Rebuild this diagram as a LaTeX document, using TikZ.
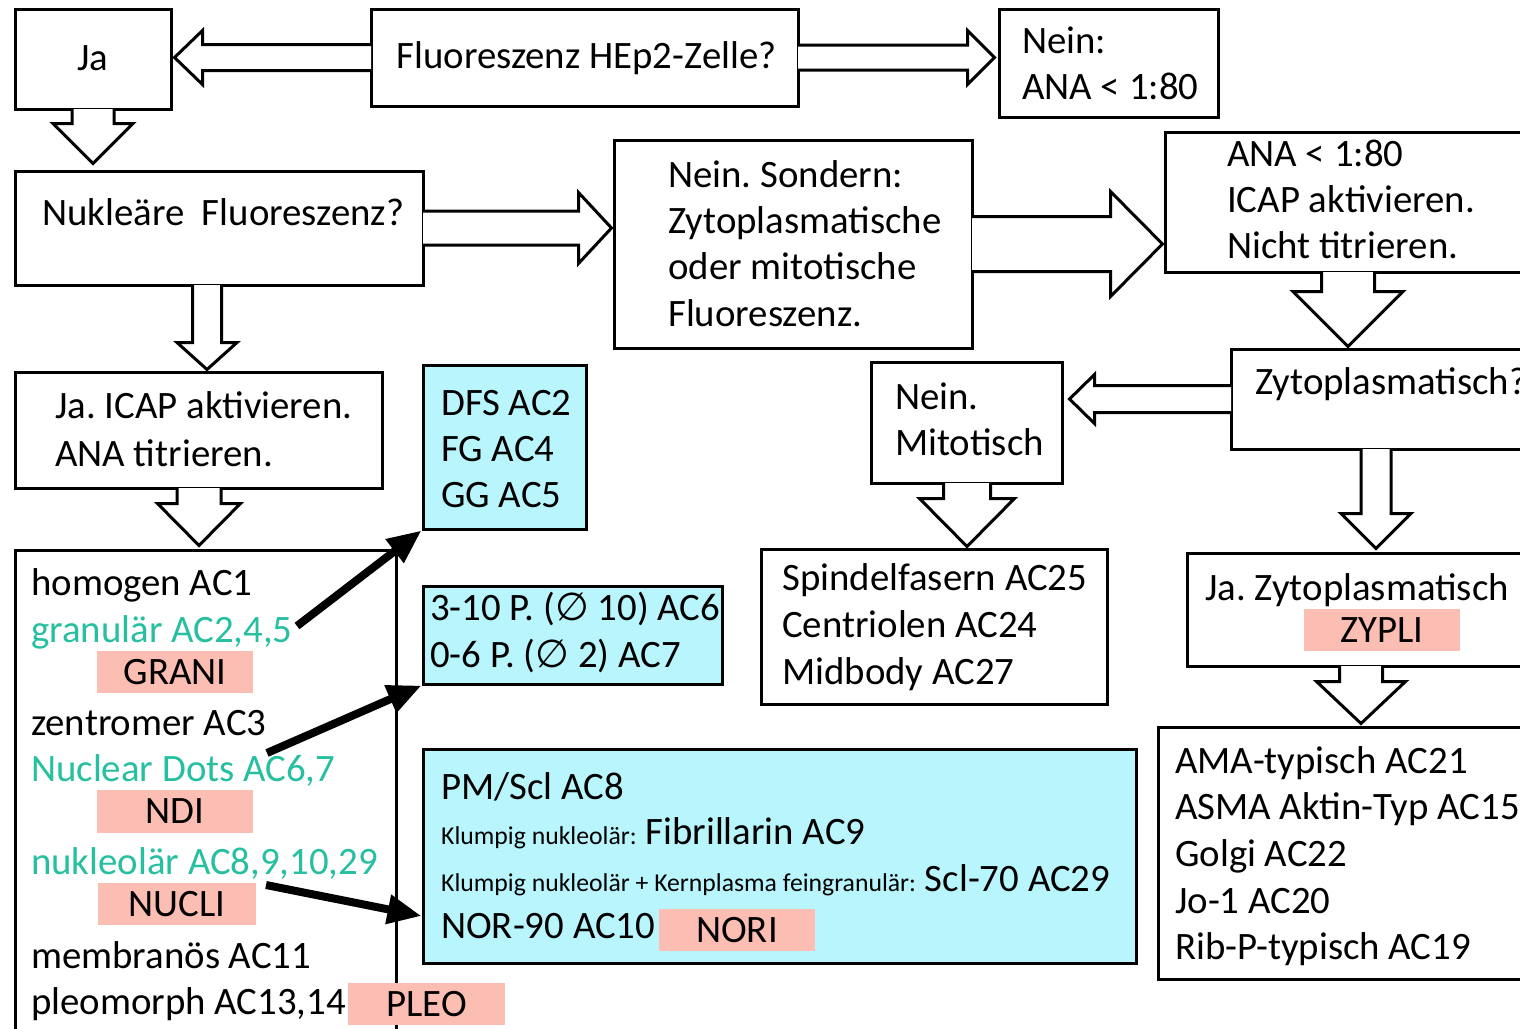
\documentclass[tikz,border=0pt]{standalone}
\usepackage{fontspec}
\setmainfont{Carlito}
\newfontfamily\dejavu{DejaVu Sans}
\usetikzlibrary{arrows.meta,calc,fit}
\definecolor{tealtx}{RGB}{38,192,160}
\definecolor{pinkf}{RGB}{252,190,178}
\definecolor{cyanf}{RGB}{184,245,252}
\newcommand\mainsz{\fontsize{38.8}{46}\selectfont}
\newcommand\smallf{\fontsize{25.7}{25}\selectfont}
\frenchspacing
% block arrows: start point, tip point, shaft half, head half, head length
\newcommand\rarr[5]{\draw[blk] let \p1=(#1), \p2=(#2) in (\x1-1.5pt,\y1+#3pt) -- (\x2-#5pt,\y1+#3pt) -- (\x2-#5pt,\y1+#4pt) -- (\x2,\y1) -- (\x2-#5pt,\y1-#4pt) -- (\x2-#5pt,\y1-#3pt) -- (\x1-1.5pt,\y1-#3pt);}
\newcommand\larr[5]{\draw[blk] let \p1=(#1), \p2=(#2) in (\x1+1.5pt,\y1+#3pt) -- (\x2+#5pt,\y1+#3pt) -- (\x2+#5pt,\y1+#4pt) -- (\x2,\y1) -- (\x2+#5pt,\y1-#4pt) -- (\x2+#5pt,\y1-#3pt) -- (\x1+1.5pt,\y1-#3pt);}
\newcommand\darr[5]{\draw[blk] let \p1=(#1), \p2=(#2) in (\x1-#3pt,\y1+1.5pt) -- (\x1-#3pt,\y2+#5pt) -- (\x1-#4pt,\y2+#5pt) -- (\x1,\y2) -- (\x1+#4pt,\y2+#5pt) -- (\x1+#3pt,\y2+#5pt) -- (\x1+#3pt,\y1+1.5pt);}
\begin{document}
\begin{tikzpicture}[x=1pt,y=-1pt,
  bx/.style={draw, line width=3pt, fill=white, inner sep=0pt},
  pk/.style={fill=pinkf, inner sep=0pt},
  txt/.style={anchor=west, inner sep=0pt, text height=22pt, text depth=0pt, font=\mainsz},
  ctxt/.style={anchor=center, inner sep=0pt, text height=22pt, text depth=0pt, font=\mainsz},
  ptxt/.style={anchor=center, inner sep=0pt, text height=24pt, text depth=0pt, font=\mainsz},
  blk/.style={draw, fill=white, line width=3pt, line join=miter},
  thk/.style={line width=8pt, -{Triangle[length=34pt,width=28pt]}}]
\useasboundingbox (0,0) rectangle (1520,1028);
\clip (0,0) rectangle (1520,1028);
\fill[white] (0,0) rectangle (1520,1028);
% boxes
\node[bx, fit={(15,9) (171,109)}] (ja) {};
\node[bx, fit={(371,9) (798,106)}] (fl) {};
\node[bx, fit={(999,9) (1218,117)}] (nein) {};
\node[bx, fit={(15,171) (423,285)}] (nuk) {};
\node[bx, fit={(614,140) (972,348)}] (sond) {};
\node[bx, fit={(1165,132) (1580,272)}] (ana) {};
\node[bx, fit={(1231,349) (1580,449)}] (zyt) {};
\node[bx, fit={(871,362) (1062,483)}] (mit) {};
\node[bx, fit={(761,549) (1107,704)}] (spin) {};
\node[bx, fit={(1187,553) (1580,666)}] (jzy) {};
\node[bx, fit={(1158,727) (1580,979)}] (ama) {};
\node[bx, fit={(15,372) (382,488)}] (icap) {};
\node[bx, fit={(15,550) (396,1100)}] (list) {};
\node[bx, fill=cyanf, fit={(423,365) (586,529)}] (dfs) {};
\node[bx, fill=cyanf, fit={(423,586) (722,684)}] (p310) {};
\node[bx, fill=cyanf, fit={(423,749) (1136,963)}] (pm) {};
% pink labels
\node[pk, fit={(97,651) (253,693)}] (grani) {};
\node[pk, fit={(97,790) (253,833)}] (ndi) {};
\node[pk, fit={(98,883) (256,925)}] (nucli) {};
\node[pk, fit={(348,983) (505,1025)}] (pleo) {};
\node[pk, fit={(659,909) (815,951)}] (nori) {};
\node[pk, fit={(1304,609) (1460,651)}] (zypli) {};
\node[ptxt] (tgrani) at (grani.center) {GRANI};
\node[ptxt] (tndi) at (ndi.center) {NDI};
\node[ptxt] (tnucli) at (nucli.center) {NUCLI};
\node[ptxt] (tpleo) at (pleo.center) {PLEO};
\node[ptxt] (tnori) at (nori.center) {NORI};
\node[ptxt] (tzypli) at (zypli.center) {ZYPLI};
% texts
\node[ctxt] (tja) at (ja.center) {Ja};
\node[ctxt] (tfl) at ($(fl.center)+(2,0)$) {Fluoreszenz HEp2-Zelle?};
\node[txt] (tn1) at (1022,42) {Nein:};
\node[txt] (tn2) at (1022,88) {ANA < 1:80};
\node[txt] (tnuk) at (42,214) {Nukleäre\ \ Fluoreszenz?};
\node[txt] (ts1) at (668,176) {Nein. Sondern:};
\node[txt] (ts2) at (668,222) {Zytoplasmatische};
\node[txt] (ts3) at (668,268) {oder mitotische};
\node[txt] (ts4) at (668,315) {Fluoreszenz.};
\node[txt] (ta1) at (1227,155) {ANA < 1:80};
\node[txt] (ta2) at (1227,201) {ICAP aktivieren.};
\node[txt] (ta3) at (1227,247) {Nicht titrieren.};
\node[txt] (tz) at (1255,383) {Zytoplasmatisch?};
\node[txt] (tm1) at (895,398) {Nein.};
\node[txt] (tm2) at (895,444) {Mitotisch};
\node[txt] (ti1) at (55,407) {Ja. ICAP aktivieren.};
\node[txt] (ti2) at (55,455) {ANA titrieren.};
\node[txt] (td1) at (441,404) {DFS AC2};
\node[txt] (td2) at (441,450) {FG AC4};
\node[txt] (td3) at (441,496) {GG AC5};
\node[txt] (tp1) at (430,609) {3-10 P. ({\dejavu ∅} 10) AC6};
\node[txt] (tp2) at (430,656) {0-6 P. ({\dejavu ∅} 2) AC7};
\node[txt] (tsp1) at (782,579) {Spindelfasern AC25};
\node[txt] (tsp2) at (782,626) {Centriolen AC24};
\node[txt] (tsp3) at (782,673) {Midbody AC27};
\node[txt] (tj) at (1205,589) {Ja. Zytoplasmatisch};
\node[txt] (tam1) at (1175,762) {AMA-typisch AC21};
\node[txt] (tam2) at (1175,808) {ASMA Aktin-Typ AC15};
\node[txt] (tam3) at (1175,855) {Golgi AC22};
\node[txt] (tam4) at (1175,902) {Jo-1 AC20};
\node[txt] (tam5) at (1175,948) {Rib-P-typisch AC19};
\node[txt] (tl1) at (31,584) {homogen AC1};
\node[txt, text=tealtx] (tl2) at (31,631) {granulär AC2,4,5};
\node[txt] (tl3) at (31,724) {zentromer AC3};
\node[txt, text=tealtx] (tl4) at (31,770) {Nuclear Dots AC6,7};
\node[txt, text=tealtx] (tl5) at (31,863) {nukleolär AC8,9,10,29};
\node[txt] (tl6) at (31,957) {membranös AC11};
\node[txt] (tl7) at (31,1003) {pleomorph AC13,14};
\node[txt] (tpm1) at (441,788) {PM/Scl AC8};
\node[txt] (tpm2) at (441,833) {{\smallf Klumpig nukleolär:} Fibrillarin AC9};
\node[txt] (tpm3) at (441,880) {{\smallf Klumpig nukleolär + Kernplasma feingranulär:} Scl-70 AC29};
\node[txt] (tpm4) at (441,927) {NOR-90 AC10};
% block arrows
\larr{fl.west}{$(ja.east |- fl.west)+(2,0)$}{13}{27}{28}
\rarr{fl.east}{$(nein.west |- fl.east)+(-3,0)$}{12.5}{27}{27}
\darr{93,0 |- ja.south}{$(93,0 |- nuk.north)+(0,-6)$}{21}{40}{40}
\rarr{nuk.east}{$(sond.west |- nuk.east)+(-1,0)$}{17}{35.5}{33}
\darr{207,0 |- nuk.south}{$(207,0 |- icap.north)+(0,-1)$}{14.5}{30}{27}
\darr{199,0 |- icap.south}{$(199,0 |- list.north)+(0,-3)$}{22}{41.5}{42}
\rarr{sond.east}{$(ana.west |- sond.east)+(-1,0)$}{27.5}{52.5}{52}
\darr{1348,0 |- ana.south}{$(1348,0 |- zyt.north)+(0,-1)$}{26.5}{55}{55}
\larr{zyt.west}{$(mit.east |- zyt.west)+(6,0)$}{13.5}{24.5}{25}
\darr{967,0 |- mit.south}{$(967,0 |- spin.north)+(0,-1)$}{23.5}{47.5}{48}
\darr{1376,0 |- zyt.south}{$(1376,0 |- jzy.north)+(0,-3)$}{15}{35}{35}
\darr{1361,0 |- jzy.south}{$(1361,0 |- ama.north)+(0,-2)$}{21.5}{44.5}{42}
% thick arrows
\coordinate (a1) at (297,626);
\coordinate (a2) at (267,753);
\coordinate (a3) at (266,885);
\coordinate (e3) at ($(pm.west)+(0,60)$);
\draw[thk] (a1) -- (dfs.south west);
\draw[thk] (a2) -- (p310.south west);
\draw[thk] (a3) -- (e3);
\end{tikzpicture}
\end{document}
